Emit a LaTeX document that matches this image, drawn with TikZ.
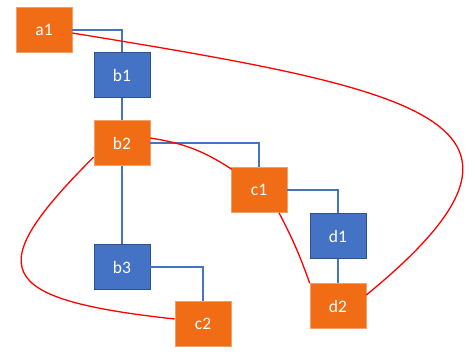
\documentclass[tikz,border=0pt]{standalone}
\usepackage{fontspec}
\setmainfont{Carlito}
\definecolor{boxorange}{HTML}{F06C15}
\definecolor{orangeedge}{HTML}{F4A06A}
\definecolor{boxblue}{HTML}{4472C4}
\definecolor{blueedge}{HTML}{2F528F}
\definecolor{linkred}{HTML}{FF0000}
\tikzset{
  basebox/.style={rectangle, minimum width=56pt, minimum height=45pt, inner sep=0pt,
    text=white, font=\fontsize{17.5}{20}\selectfont, line width=0.6pt},
  obox/.style={basebox, fill=boxorange, draw=orangeedge},
  bbox/.style={basebox, fill=boxblue, draw=blueedge},
  tree/.style={draw=boxblue, line width=1.9pt},
  link/.style={draw=linkred, line width=1.3pt}
}
\begin{document}
\begin{tikzpicture}[x=1pt,y=-1pt]
\useasboundingbox (0,0) rectangle (475,357);
\node[obox] (a1) at (44,30) {a1};
\node[bbox] (b1) at (122,75) {b1};
\node[obox] (b2) at (122,143) {b2};
\node[obox] (c1) at (259,190) {c1};
\node[bbox] (d1) at (338,236) {d1};
\node[obox] (d2) at (338,306) {d2};
\node[bbox] (b3) at (122,267) {b3};
\node[obox] (c2) at (203,324) {c2};
\draw[tree] (a1.east) -| (b1.north);
\draw[tree] (b1.south) -- (b2.north);
\draw[tree] (b2.east) -| (c1.north);
\draw[tree] (c1.east) -| (d1.north);
\draw[tree] (d1.south) -- (d2.north);
\draw[tree] (b2.south) -- (b3.north);
\draw[tree] (b3.east) -| (c2.north);
\draw[link] ([yshift=-3pt]a1.east) .. controls (420,90) and (580,120) .. ([yshift=11pt]d2.east);
\draw[link] ([yshift=5pt]b2.east) to[bend left=12] ([xshift=1pt,yshift=-2pt]c1.north west);
\draw[link] ([xshift=20pt]c1.south) to[bend left=4] (d2.north west);
\draw[link] ([yshift=-14pt]b2.west) .. controls (-18,269) and (-8,299) .. ([yshift=5pt]c2.west);
\end{tikzpicture}
\end{document}
